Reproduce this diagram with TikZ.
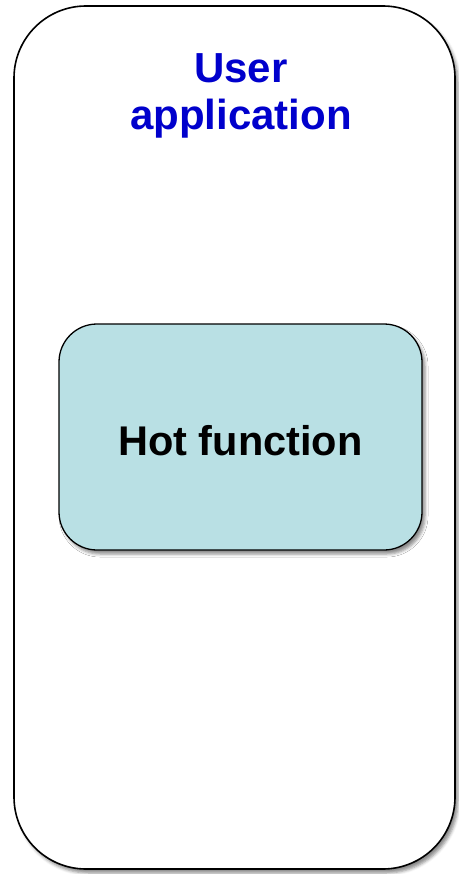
\documentclass[tikz,border=0pt]{standalone}
\usepackage{fontspec}
\setmainfont{Liberation Sans}
\usepackage{xcolor}
\usepackage{tikz}
\usetikzlibrary{shadows.blur}
\definecolor{ink}{HTML}{000000}
\definecolor{titleblue}{HTML}{0000CC}
\definecolor{hotfill}{HTML}{B9E0E4}
\tikzset{
  shade/.style={blur shadow={shadow xshift=3pt, shadow yshift=-4pt, shadow blur radius=3pt, shadow opacity=45}},
  appbox/.style={draw=ink, line width=1.6pt, fill=white, rounded corners=72pt, shade},
  hotbox/.style={draw=ink, line width=1.3pt, fill=hotfill, rounded corners=38pt, shade},
  ttl/.style={text=titleblue, font=\fontsize{42}{47}\selectfont\bfseries, align=center},
  lab/.style={text=ink, font=\fontsize{41.5}{47}\selectfont\bfseries},
}

\begin{document}
\begin{tikzpicture}[x=1pt, y=-1pt]
  \useasboundingbox (0,0) rectangle (458,874);
  \node[appbox, minimum width=441pt, minimum height=863pt] (app) at (234.5,437.5) {};
  \node[ttl, anchor=base] (title) at (241,130) {User\\application};
  \node[hotbox, minimum width=363pt, minimum height=226pt] (hot) at (240.5,437) {};
  \node[lab, anchor=base] (hotlab) at (hot.center |- 0,455) {Hot function};
\end{tikzpicture}
\end{document}
